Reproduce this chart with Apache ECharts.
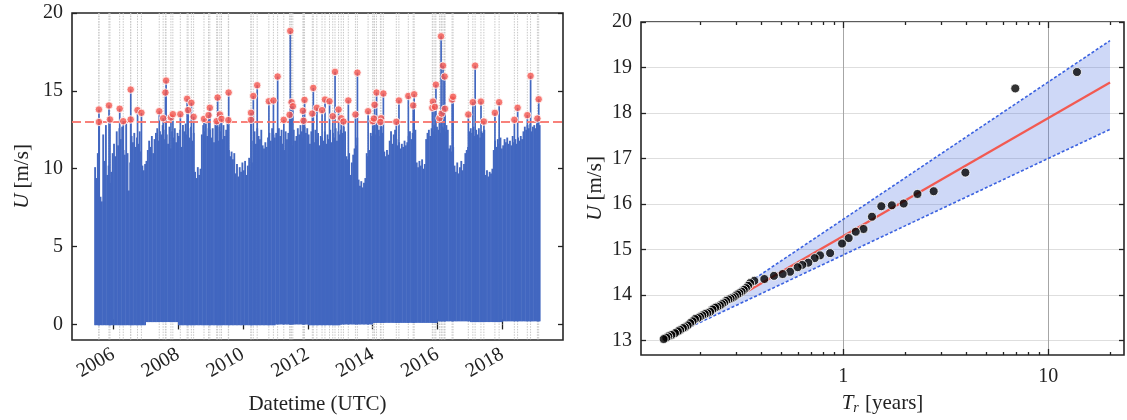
<!DOCTYPE html>
<html>
<head>
<meta charset="utf-8">
<script src="https://cdn.jsdelivr.net/npm/echarts@6/dist/echarts.min.js"></script>
<style>
html,body{margin:0;padding:0;background:#fff;}
#c{width:1127px;height:420px;}
</style>
</head>
<body>
<div id="c"></div>
<script>
// ---------------- DATA ----------------
// Left panel: wind speed time series (half-monthly envelope maxima), decimal years
const seriesStart = 2005.42;
const stepsPerYear = 24;
const envHigh = [
  // 2005 (from 2005.42)
  10.1, 9.4, 11.0, 12.9, 8.2, 7.9, 12.2, 10.5, 12.8, 9.6, 10.2, 9.1, 9.8, 11.0,
  // 2006
  11.6, 10.8, 12.4, 11.5, 12.6, 11.9, 12.7, 11.2, 10.9, 12.9, 11.0, 8.6, 10.4, 12.1, 11.7, 12.3, 11.4, 12.0, 11.6, 12.4, 11.1, 10.2, 9.9, 10.3,
  // 2007
  10.5, 11.2, 11.8, 11.4, 12.1, 11.0, 11.9, 12.3, 12.6, 11.8, 12.4, 12.2, 12.8, 11.9, 12.5, 12.2, 11.6, 12.7, 11.3, 12.4, 12.0, 12.6, 11.7, 12.3,
  // 2008
  12.1, 12.5, 11.4, 12.8, 12.4, 12.9, 12.2, 12.6, 12.0, 12.7, 11.8, 12.3, 9.8, 9.4, 10.1, 9.6, 10.0, 12.2, 12.8, 12.4, 12.9, 12.1, 12.6, 12.5,
  // 2009
  12.0, 12.6, 11.7, 12.9, 12.2, 11.8, 12.7, 12.4, 11.9, 12.8, 12.1, 12.5, 12.9, 11.2, 10.8, 11.1, 10.6, 11.0, 9.7, 10.3, 9.5, 10.1, 9.8, 10.4,
  // 2010
  9.9, 10.5, 9.6, 10.2, 10.7, 9.9, 10.4, 11.8, 12.4, 11.6, 12.6, 12.1, 11.9, 12.5, 11.5, 11.3, 11.7, 11.4, 12.0, 12.3, 11.8, 12.6, 12.2, 12.0,
  // 2011
  12.3, 11.8, 12.6, 12.1, 12.5, 11.6, 11.2, 12.4, 11.9, 12.3, 11.0, 12.2, 11.5, 12.5, 11.8, 12.1, 12.6, 12.2, 12.8, 12.4, 12.0, 12.7, 12.3, 12.6,
  // 2012
  12.2, 11.6, 12.4, 12.0, 11.7, 12.5, 11.9, 12.3, 11.5, 12.1, 12.0, 11.8, 12.4, 11.6, 12.2, 11.9, 12.5, 11.7, 12.3, 12.0, 12.6, 11.8, 12.4, 12.2,
  // 2013
  12.5, 12.3, 12.7, 12.4, 10.8, 10.6, 11.0, 9.6, 10.4, 10.9, 11.3, 11.5, 12.0, 9.3, 8.9, 9.2, 8.8, 9.1, 9.4, 11.0, 10.8, 11.2, 12.3, 12.1,
  // 2014
  12.4, 12.8, 12.2, 12.9, 12.5, 12.1, 12.7, 12.3, 11.1, 10.8, 11.2, 10.9, 11.8, 12.4, 11.6, 12.2, 12.5, 11.9, 11.5, 11.7, 11.3, 11.6, 11.4, 11.8,
  // 2015
  11.5, 11.7, 12.1, 12.4, 11.9, 12.3, 12.0, 12.5, 10.4, 10.1, 10.5, 10.2, 10.6, 10.0, 10.3, 11.9, 12.3, 12.5, 12.1, 12.6, 12.4, 12.8, 12.2, 12.7,
  // 2016
  12.5, 12.9, 12.3, 12.7, 12.6, 12.4, 12.8, 12.5, 11.3, 11.5, 11.1, 11.4, 10.2, 9.8, 10.4, 9.7, 10.1, 10.5, 9.9, 10.3, 11.0, 11.2, 11.4, 12.4,
  // 2017
  12.6, 12.3, 12.7, 12.1, 12.5, 12.2, 12.6, 12.0, 12.4, 12.3, 12.5, 9.6, 9.9, 9.5, 9.8, 9.7, 10.0, 11.2, 11.8, 11.4, 11.9, 11.6, 12.0, 11.3,
  // 2018
  11.5, 11.9, 11.7, 12.0, 11.6, 11.8, 11.5, 12.1, 11.7, 11.9, 11.6, 12.0, 11.8, 12.1, 11.9, 12.4, 12.7, 12.5, 12.8, 12.6, 12.9, 12.4, 12.7, 12.8,
  // 2019
  12.6, 12.9, 12.4, 12.8
];
// typical minimum speed per calendar year 2005..2019
const lowYears = [2005, 2006, 2007, 2008, 2009, 2010, 2011, 2012, 2013, 2014, 2015, 2016, 2017, 2018, 2019];
const lowByYear = [-0.05, -0.05, 0.15, -0.05, -0.05, -0.05, 0.0, -0.05, 0.0, 0.1, 0.1, 0.2, 0.15, 0.2, 0.2];

// Peak-over-threshold exceedances (decimal year, U m/s)
const peakT = [2005.56, 2005.56, 2005.87, 2005.90, 2006.20, 2006.31, 2006.54, 2006.54, 2006.75, 2006.87,
  2007.42, 2007.54, 2007.61, 2007.63, 2007.78, 2007.84, 2008.07, 2008.28, 2008.31, 2008.41,
  2008.48, 2008.80, 2008.94, 2008.98, 2009.19, 2009.22, 2009.29, 2009.34, 2009.55, 2009.56,
  2010.25, 2010.25, 2010.32, 2010.44, 2010.80, 2010.94, 2011.07, 2011.26, 2011.44, 2011.46,
  2011.50, 2011.54, 2011.85, 2011.87, 2011.90, 2012.17, 2012.14, 2012.28, 2012.44, 2012.53,
  2012.67, 2012.77, 2012.84, 2012.95, 2013.03, 2013.10, 2013.25, 2013.47, 2013.53, 2013.86,
  2014.00, 2014.04, 2014.06, 2014.12, 2014.26, 2014.24, 2014.33, 2014.73, 2014.81, 2015.10,
  2015.25, 2015.28, 2015.84, 2015.86, 2015.92, 2015.95, 2016.06, 2016.11, 2016.13, 2016.17,
  2016.22, 2016.23, 2016.45, 2016.48, 2016.95, 2017.09, 2017.16, 2017.34, 2017.43, 2017.77,
  2017.90, 2018.37, 2018.47, 2018.77, 2018.87, 2019.08, 2019.12];
const peakU = [13.80, 13.00, 14.06, 13.16, 13.85, 13.05, 15.08, 13.16, 13.76, 13.59,
  13.69, 13.24, 14.89, 15.66, 13.29, 13.50, 13.50, 14.49, 13.76, 14.23,
  13.33, 13.20, 13.44, 13.91, 13.05, 14.57, 13.48, 13.20, 13.12, 14.89,
  13.59, 13.14, 14.67, 15.36, 14.33, 14.38, 15.92, 13.14, 13.46, 18.85,
  14.27, 14.01, 13.72, 13.08, 14.42, 15.19, 13.54, 13.91, 13.76, 14.44,
  14.33, 13.37, 16.22, 13.80, 13.24, 13.03, 14.38, 13.48, 16.17, 13.69,
  13.05, 13.22, 14.10, 14.89, 13.24, 13.00, 14.83, 13.01, 14.38, 14.67,
  14.06, 14.78, 13.91, 14.31, 13.97, 15.40, 13.24, 18.50, 13.54, 16.62,
  15.92, 13.85, 14.44, 14.62, 13.48, 14.27, 16.62, 14.31, 13.03, 13.59,
  14.27, 13.14, 13.91, 13.44, 15.96, 13.22, 14.46];
const threshold = 13;
const leftXTicks = [2006, 2008, 2010, 2012, 2014, 2016, 2018];
const leftYTicks = [0, 5, 10, 15, 20];

// Right panel: return period (years) vs return level (m/s), visible markers
const rpT = [13.8, 6.9, 3.94, 2.76, 2.3, 1.97, 1.725, 1.533, 1.38, 1.2545, 1.15, 1.062, 0.986,
  0.8625, 0.77, 0.725, 0.675, 0.631, 0.599, 0.55, 0.506, 0.459, 0.412, 0.368, 0.351,
  0.343, 0.335, 0.327, 0.319, 0.311, 0.304, 0.296, 0.289, 0.282, 0.275, 0.268, 0.262, 0.256,
  0.25, 0.243, 0.237, 0.23, 0.224, 0.217, 0.211, 0.205, 0.2, 0.195, 0.189, 0.184, 0.179,
  0.174, 0.169, 0.165, 0.16, 0.156, 0.151, 0.145, 0.14, 0.137, 0.133];
const rpU = [18.9, 18.54, 16.69, 16.28, 16.22, 16.01, 15.97, 15.95, 15.72, 15.45, 15.39, 15.25, 15.13,
  14.92, 14.87, 14.81, 14.71, 14.66, 14.61, 14.51, 14.46, 14.42, 14.35, 14.31, 14.26,
  14.20, 14.15, 14.11, 14.07, 14.04, 14.01, 13.97, 13.94, 13.92, 13.90, 13.87, 13.83, 13.80,
  13.77, 13.74, 13.72, 13.68, 13.63, 13.60, 13.58, 13.55, 13.52, 13.49, 13.47, 13.42, 13.38,
  13.33, 13.29, 13.27, 13.23, 13.20, 13.16, 13.12, 13.09, 13.06, 13.03];
// fitted return level curve and confidence band
const fitT = [0.133, 20];
const fitU = [13.02, 18.67];
const bandUpper = [13.02, 19.59];
const bandLower = [13.02, 17.64];
const rightXMajor = [1, 10];
const rightXMinor = [0.2, 0.3, 0.4, 0.5, 0.6, 0.7, 0.8, 0.9, 2, 3, 4, 5, 6, 7, 8, 9, 20];
const rightYTicks = [13, 14, 15, 16, 17, 18, 19, 20];

// ---------------- BUILD ----------------
const FONT = 'Liberation Serif, Times New Roman, DejaVu Serif, serif';
const TXT = '#222';
const BLUE = '#4267c0';

function lowAt(t) {
  const idx = lowYears.indexOf(Math.floor(t));
  return idx >= 0 ? lowByYear[idx] : 0;
}
// columns: [t0, t1, low, high]
const blueCols = [];
for (let i = 0; i < envHigh.length; i++) {
  const t0 = seriesStart + i / stepsPerYear;
  blueCols.push([t0, t0 + 1 / stepsPerYear, lowAt(t0), envHigh[i]]);
}
for (let i = 0; i < peakT.length; i++) {
  blueCols.push([peakT[i] - 0.018, peakT[i] + 0.018, lowAt(peakT[i]), peakU[i]]);
}

const peakData = peakT.map((t, i) => [t, peakU[i]]);
const rpData = rpT.map((t, i) => [t, rpU[i]]);
const fitData = fitT.map((t, i) => [t, fitU[i]]);
const upData = fitT.map((t, i) => [t, bandUpper[i]]);
const loData = fitT.map((t, i) => [t, bandLower[i]]);

const tickStyle = { color: TXT, width: 1.3 };
const labelBase = { fontFamily: FONT, fontSize: 20, color: TXT };
const nameStyle = {
  fontFamily: FONT, fontSize: 21, color: TXT,
  rich: {
    i: { fontFamily: FONT, fontSize: 21, color: TXT, fontStyle: 'italic' },
    s: { fontFamily: FONT, fontSize: 14, color: TXT, fontStyle: 'italic', verticalAlign: 'bottom', padding: [10, 1, 0, 0] }
  }
};

const LX = { min: 2004.73, max: 2019.87 };
const LY = { min: -1, max: 20 };
const RX = { min: 0.1031, max: 23.4 };
const RY = { min: 12.68, max: 20 };

const chart = echarts.init(document.getElementById('c'), null, { renderer: 'canvas' });
chart.setOption({
  animation: false,
  backgroundColor: '#fff',
  grid: [
    { left: 72, top: 13, width: 491, height: 328, show: true, borderColor: '#262626', borderWidth: 1.6, backgroundColor: 'transparent' },
    { left: 641, top: 22, width: 483, height: 340, show: true, borderColor: '#262626', borderWidth: 1.6, backgroundColor: 'transparent' }
  ],
  xAxis: [
    { gridIndex: 0, type: 'value', min: LX.min, max: LX.max, position: 'bottom',
      axisLine: { show: false }, splitLine: { show: false },
      axisTick: { inside: true, length: 5, lineStyle: tickStyle, customValues: leftXTicks },
      axisLabel: Object.assign({}, labelBase, { customValues: leftXTicks, rotate: 30, margin: 13, formatter: v => String(Math.round(v)) }),
      name: 'Datetime (UTC)', nameLocation: 'middle', nameGap: 54, nameTextStyle: nameStyle },
    { gridIndex: 0, type: 'value', min: LX.min, max: LX.max, position: 'top',
      axisLine: { show: false }, splitLine: { show: false },
      axisTick: { inside: true, length: 5, lineStyle: tickStyle, customValues: leftXTicks },
      axisLabel: { show: false } },
    { gridIndex: 1, type: 'log', logBase: 10, min: RX.min, max: RX.max, position: 'bottom',
      axisLine: { show: false },
      splitLine: { show: true, lineStyle: { color: '#a6a6a6', width: 1 } },
      axisTick: { inside: true, length: 6, lineStyle: tickStyle, customValues: rightXMajor },
      axisLabel: Object.assign({}, labelBase, { customValues: rightXMajor, margin: 12, formatter: v => String(Math.round(v)) }),
      name: '{i|T}{s|r} [years]', nameLocation: 'middle', nameGap: 36, nameTextStyle: nameStyle },
    { gridIndex: 1, type: 'log', logBase: 10, min: RX.min, max: RX.max, position: 'bottom',
      axisLine: { show: false }, splitLine: { show: false },
      axisTick: { inside: true, length: 3, lineStyle: tickStyle, customValues: rightXMinor },
      axisLabel: { show: false } },
    { gridIndex: 1, type: 'log', logBase: 10, min: RX.min, max: RX.max, position: 'top',
      axisLine: { show: false }, splitLine: { show: false },
      axisTick: { inside: true, length: 6, lineStyle: tickStyle, customValues: rightXMajor },
      axisLabel: { show: false } },
    { gridIndex: 1, type: 'log', logBase: 10, min: RX.min, max: RX.max, position: 'top',
      axisLine: { show: false }, splitLine: { show: false },
      axisTick: { inside: true, length: 3, lineStyle: tickStyle, customValues: rightXMinor },
      axisLabel: { show: false } }
  ],
  yAxis: [
    { gridIndex: 0, type: 'value', min: LY.min, max: LY.max, position: 'left',
      axisLine: { show: false }, splitLine: { show: false },
      axisTick: { inside: true, length: 5, lineStyle: tickStyle, customValues: leftYTicks },
      axisLabel: Object.assign({}, labelBase, { customValues: leftYTicks, margin: 9 }),
      name: '{i|U} [m/s]', nameLocation: 'middle', nameGap: 39, nameRotate: 90, nameTextStyle: nameStyle },
    { gridIndex: 0, type: 'value', min: LY.min, max: LY.max, position: 'right',
      axisLine: { show: false }, splitLine: { show: false },
      axisTick: { inside: true, length: 5, lineStyle: tickStyle, customValues: leftYTicks },
      axisLabel: { show: false } },
    { gridIndex: 1, type: 'value', min: RY.min, max: RY.max, position: 'left',
      axisLine: { show: false },
      splitLine: { show: true, lineStyle: { color: '#dedede', width: 1 } },
      axisTick: { inside: true, length: 5, lineStyle: tickStyle, customValues: rightYTicks },
      axisLabel: Object.assign({}, labelBase, { customValues: rightYTicks, margin: 9 }),
      name: '{i|U} [m/s]', nameLocation: 'middle', nameGap: 35, nameRotate: 90, nameTextStyle: nameStyle },
    { gridIndex: 1, type: 'value', min: RY.min, max: RY.max, position: 'right',
      axisLine: { show: false }, splitLine: { show: false },
      axisTick: { inside: true, length: 5, lineStyle: tickStyle, customValues: rightYTicks },
      axisLabel: { show: false } }
  ],
  series: [
    // exceedance time markers (full-height dotted lines)
    { type: 'custom', xAxisIndex: 0, yAxisIndex: 0, z: 1, data: peakT, silent: true,
      encode: { x: 0 },
      renderItem: function (params, api) {
        const t = api.value(0);
        const a = api.coord([t, LY.max]);
        const b = api.coord([t, LY.min]);
        return { type: 'line', shape: { x1: a[0], y1: a[1], x2: b[0], y2: b[1] },
          style: { stroke: '#c8c8c8', lineWidth: 1, lineDash: [1.5, 1.2] } };
      } },
    // wind speed time series
    { type: 'custom', xAxisIndex: 0, yAxisIndex: 0, z: 2, data: blueCols, silent: true,
      dimensions: ['t0', 't1', 'low', 'high'],
      encode: { x: [0, 1], y: [2, 3] },
      renderItem: function (params, api) {
        const a = api.coord([api.value(0), api.value(3)]);
        const b = api.coord([api.value(1), api.value(2)]);
        const w = Math.max(b[0] - a[0], 1.1) + 0.5;
        return { type: 'rect', shape: { x: a[0] - 0.2, y: a[1], width: w, height: b[1] - a[1] },
          style: { fill: BLUE } };
      } },
    // threshold
    { type: 'line', xAxisIndex: 0, yAxisIndex: 0, z: 3, data: [], silent: true,
      markLine: { silent: true, symbol: 'none', label: { show: false },
        lineStyle: { color: '#f7736c', type: [9, 4], width: 2.2, opacity: 0.9 },
        data: [{ yAxis: threshold }] } },
    // peaks
    { type: 'scatter', xAxisIndex: 0, yAxisIndex: 0, z: 6, data: peakData, symbolSize: 7.5,
      itemStyle: { color: '#f4554e', borderColor: '#fff', borderWidth: 1 } },
    // confidence band fill
    { type: 'custom', xAxisIndex: 2, yAxisIndex: 2, z: 1, data: [0], silent: true,
      renderItem: function (params, api) {
        const pts = [];
        for (let i = 0; i < fitT.length; i++) pts.push(api.coord([fitT[i], bandUpper[i]]));
        for (let i = fitT.length - 1; i >= 0; i--) pts.push(api.coord([fitT[i], bandLower[i]]));
        return { type: 'polygon', shape: { points: pts }, style: { fill: 'rgba(65,105,225,0.26)' } };
      } },
    { type: 'line', xAxisIndex: 2, yAxisIndex: 2, z: 2, data: upData, showSymbol: false, silent: true,
      lineStyle: { color: '#3b62e0', width: 1.6, type: [3, 2] } },
    { type: 'line', xAxisIndex: 2, yAxisIndex: 2, z: 2, data: loData, showSymbol: false, silent: true,
      lineStyle: { color: '#3b62e0', width: 1.6, type: [3, 2] } },
    { type: 'line', xAxisIndex: 2, yAxisIndex: 2, z: 3, data: fitData, showSymbol: false, silent: true,
      lineStyle: { color: '#f25a52', width: 2.2 } },
    { type: 'scatter', xAxisIndex: 2, yAxisIndex: 2, z: 4, data: rpData, symbolSize: 9,
      itemStyle: { color: '#000', borderColor: '#fff', borderWidth: 1 } }
  ]
});
</script>
</body>
</html>
